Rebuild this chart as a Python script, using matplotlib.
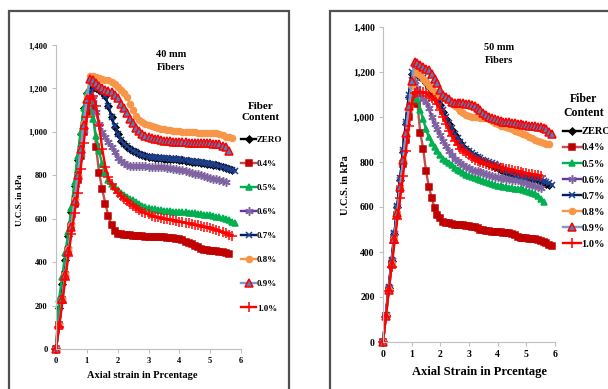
import matplotlib
matplotlib.use("Agg")
import matplotlib.pyplot as plt
from matplotlib.patches import Rectangle
from matplotlib.ticker import FuncFormatter

plt.rcParams['font.family'] = ['Liberation Serif', 'DejaVu Serif']
plt.rcParams['font.weight'] = 'bold'

# --- Data ---
STRAIN = [0.0, 0.1, 0.2, 0.3, 0.4, 0.5, 0.6, 0.7, 0.8, 0.9,
          1.0, 1.1, 1.2, 1.3, 1.4, 1.5, 1.6, 1.7, 1.8, 1.9,
          2.0, 2.1, 2.2, 2.3, 2.4, 2.5, 2.6, 2.7, 2.8, 2.9,
          3.0, 3.1, 3.2, 3.3, 3.4, 3.5, 3.6, 3.7, 3.8, 3.9,
          4.0, 4.1, 4.2, 4.3, 4.4, 4.5, 4.6, 4.7, 4.8, 4.9,
          5.0, 5.1, 5.2, 5.3, 5.4, 5.5, 5.6, 5.7, 5.8, 5.9]

LABELS = ["ZERO", "0.4%", "0.5%", "0.6%", "0.7%", "0.8%", "0.9%", "1.0%"]

# 40 mm fibers (U.C.S. in kPa)
ucs40_zero = [0, 190, 300, 410, 520, 630, 750, 870, 990, 1110,
              1180, 1195, 1200, 1200, 1195, 1183, 1163, 1118, 1068, 1023,
              988, 960, 944, 931, 920, 912, 905, 898, 893, 888,
              884, 882, 880, 879, 878, 877, 876, 875, 874, 873,
              871, 869, 867, 865, 863, 861, 859, 857, 855, 853,
              851, 849, 846, 843, 838, 833, 828, 823]
ucs40_04 = [0, 110, 225, 340, 450, 560, 670, 780, 890, 1000,
            1090, 1155, 1120, 930, 810, 735, 670, 612, 570, 545,
            530, 528, 527, 525, 524, 522, 521, 520, 519, 518,
            517, 516, 516, 515, 514, 514, 513, 512, 510, 508,
            505, 500, 495, 489, 482, 475, 468, 462, 458, 455,
            453, 452, 450, 448, 446, 441, 436]
ucs40_05 = [0, 230, 330, 440, 540, 650, 770, 890, 1000, 1110,
            1185, 1140, 1060, 980, 910, 850, 810, 780, 760, 745,
            730, 718, 708, 700, 692, 684, 675, 667, 660, 655,
            650, 646, 643, 640, 638, 636, 635, 634, 633, 632,
            631, 630, 629, 628, 627, 625, 623, 620, 618, 617,
            615, 612, 610, 606, 602, 598, 592, 586, 580]
ucs40_06 = [0, 110, 230, 345, 460, 570, 680, 790, 900, 1010,
            1120, 1180, 1150, 1090, 1035, 1000, 975, 955, 930, 905,
            880, 865, 855, 848, 845, 844, 843, 843, 842, 841,
            840, 840, 839, 838, 837, 836, 834, 832, 830, 828,
            826, 824, 820, 816, 812, 808, 804, 800, 796, 792,
            788, 785, 782, 778, 774, 770]
ucs40_07 = [0, 110, 230, 345, 460, 570, 690, 800, 920, 1030,
            1130, 1180, 1200, 1205, 1200, 1185, 1165, 1120, 1070, 1025,
            990, 962, 946, 933, 922, 914, 907, 900, 895, 890,
            886, 884, 882, 881, 880, 879, 878, 877, 876, 875,
            873, 871, 869, 867, 865, 863, 861, 859, 857, 855,
            853, 851, 848, 845, 840, 835, 830, 825, 820]
ucs40_08 = [0, 110, 230, 345, 460, 570, 690, 800, 920, 1040,
            1160, 1255, 1258, 1252, 1248, 1244, 1240, 1238, 1230, 1220,
            1208, 1195, 1178, 1160, 1130, 1100, 1075, 1055, 1045, 1038,
            1032, 1027, 1022, 1018, 1015, 1012, 1010, 1008, 1006, 1004,
            1002, 1001, 1000, 999, 998, 998, 997, 997, 996, 996,
            995, 994, 993, 990, 985, 978, 975, 972]
ucs40_09 = [0, 110, 230, 340, 450, 560, 680, 800, 920, 1030,
            1150, 1245, 1240, 1225, 1210, 1200, 1195, 1190, 1182, 1170,
            1155, 1130, 1110, 1085, 1060, 1040, 1020, 1005, 992, 982,
            976, 972, 968, 965, 962, 960, 958, 956, 955, 954,
            953, 952, 951, 950, 950, 949, 949, 948, 948, 947,
            947, 946, 945, 942, 936, 928, 912]
ucs40_10 = [0, 100, 210, 320, 430, 530, 625, 720, 830, 950,
            1070, 1150, 1165, 1120, 1030, 920, 840, 790, 760, 735,
            718, 705, 692, 680, 670, 660, 650, 640, 632, 626,
            620, 614, 610, 606, 603, 600, 598, 596, 593, 590,
            587, 584, 581, 578, 575, 572, 569, 566, 563, 560,
            557, 553, 548, 543, 538, 533, 527, 522]

# 50 mm fibers (U.C.S. in kPa)
ucs50_zero = [0, 120, 240, 360, 480, 600, 720, 845, 970, 1090,
              1190, 1200, 1192, 1180, 1168, 1152, 1132, 1112, 1092, 1077,
              1052, 1022, 993, 968, 943, 918, 898, 883, 868, 853,
              843, 833, 825, 817, 809, 803, 798, 793, 788, 780,
              773, 766, 760, 754, 750, 746, 743, 738, 735, 732,
              730, 728, 726, 723, 718, 713, 708, 703, 698]
ucs50_04 = [0, 115, 230, 345, 455, 565, 680, 790, 900, 1000,
            1070, 1100, 1060, 930, 860, 760, 690, 640, 595, 565,
            550, 535, 530, 527, 525, 522, 520, 519, 518, 517,
            515, 512, 510, 505, 500, 497, 494, 492, 490, 489,
            488, 487, 486, 485, 484, 482, 476, 468, 464, 462,
            461, 460, 459, 458, 455, 450, 446, 440, 432, 425]
ucs50_05 = [0, 120, 240, 355, 470, 585, 700, 820, 930, 1030,
            1080, 1095, 1080, 1030, 990, 945, 910, 885, 865, 850,
            830, 815, 805, 795, 785, 775, 765, 758, 750, 742,
            737, 732, 728, 725, 720, 715, 710, 706, 702, 698,
            695, 692, 690, 688, 686, 684, 682, 680, 678, 675,
            672, 668, 664, 660, 650, 635, 622]
ucs50_06 = [0, 125, 245, 365, 485, 605, 725, 850, 975, 1090,
            1170, 1160, 1130, 1100, 1080, 1068, 1040, 1000, 970, 945,
            920, 895, 870, 850, 830, 815, 805, 795, 785, 778,
            772, 766, 762, 758, 754, 750, 746, 742, 738, 735,
            732, 730, 728, 726, 724, 722, 720, 718, 714, 710,
            705, 700, 696, 692, 688, 685]
ucs50_07 = [0, 120, 245, 365, 485, 605, 730, 855, 980, 1100,
            1200, 1210, 1200, 1185, 1175, 1160, 1140, 1120, 1100, 1085,
            1060, 1030, 1000, 975, 950, 925, 905, 890, 875, 860,
            850, 840, 832, 824, 816, 810, 805, 800, 795, 790,
            782, 775, 768, 762, 756, 752, 748, 745, 740, 737,
            734, 732, 730, 728, 725, 720, 715, 710, 705, 700]
ucs50_08 = [0, 115, 230, 345, 460, 575, 690, 805, 920, 1035,
            1140, 1200, 1195, 1185, 1170, 1155, 1140, 1125, 1110, 1100,
            1095, 1090, 1085, 1075, 1062, 1050, 1040, 1028, 1018, 1010,
            1005, 1002, 1000, 998, 996, 996, 995, 990, 982, 975,
            968, 962, 960, 956, 950, 945, 940, 935, 930, 925,
            920, 912, 905, 898, 894, 890, 886, 882, 878]
ucs50_09 = [0, 115, 230, 345, 460, 575, 690, 810, 930, 1050,
            1160, 1245, 1240, 1230, 1222, 1215, 1210, 1190, 1170, 1150,
            1120, 1100, 1090, 1078, 1068, 1064, 1062, 1062, 1062, 1060,
            1060, 1055, 1048, 1040, 1030, 1020, 1010, 1000, 995, 990,
            985, 982, 980, 978, 976, 974, 972, 970, 968, 965,
            964, 962, 960, 958, 956, 955, 950, 945, 935, 925]
ucs50_10 = [0, 110, 225, 335, 440, 545, 640, 740, 850, 960,
            1060, 1105, 1110, 1112, 1110, 1105, 1095, 1085, 1075, 1060,
            1030, 1000, 970, 940, 915, 895, 875, 860, 850, 840,
            830, 820, 810, 805, 800, 795, 790, 786, 782, 779,
            777, 775, 772, 770, 768, 765, 762, 758, 755, 752,
            750, 748, 746, 744, 742, 740]

SERIES_40 = [ucs40_zero, ucs40_04, ucs40_05, ucs40_06, ucs40_07, ucs40_08, ucs40_09, ucs40_10]
SERIES_50 = [ucs50_zero, ucs50_04, ucs50_05, ucs50_06, ucs50_07, ucs50_08, ucs50_09, ucs50_10]

# --- Styles (line colour, marker, marker face, marker edge, marker size) ---
STYLES = [
    dict(color='black', marker='D', mfc='black', mec='black', ms=3.5),
    dict(color='#C0504D', marker='s', mfc='#C00000', mec='#C00000', ms=4.3),
    dict(color='#00B050', marker='^', mfc='#00B050', mec='#00B050', ms=5),
    dict(color='#7030A0', marker=(6, 2, 0), mfc='#8064A2', mec='#8064A2', ms=6),
    dict(color='#002060', marker='x', mfc='#002060', mec='#1F3F8F', ms=5),
    dict(color='#F79646', marker='o', mfc='#F79646', mec='#F79646', ms=4.3),
    dict(color='#7A9CCF', marker='^', mfc='#4F81BD', mec='#FF0000', ms=5.5),
    dict(color='#FF0000', marker='+', mfc='#FF0000', mec='#FF0000', ms=7),
]

W, H = 608, 389


def fx(px):
    return px / W


def fy(py):
    return 1 - py / H


fig = plt.figure(figsize=(W / 100, H / 100), dpi=100)
fig.set_facecolor('white')

# panel frames
for x0, x1 in [(9, 289), (330, 640)]:
    fig.patches.append(Rectangle((fx(x0), fy(420)), fx(x1) - fx(x0), fy(11) - fy(420),
                                 transform=fig.transFigure, fill=False,
                                 edgecolor='#505050', linewidth=1.6))

panels = [
    dict(ax_px=(56, 241, 45, 349), series=SERIES_40, tick=6, lab=7, title="40 mm\nFibers",
         title_xy=(171, 61), xlabel="Axial strain in Prcentage", xlabel_xy=(142, 376),
         ylabel_xy=(20, 200), leg_title_xy=(261, 112), leg_xy=(241, 224), leg_fs=6.5,
         leg_space=1.75, title_fs=7.5, ttl_fs=8, xl_fs=7.5),
    dict(ax_px=(383, 555, 27, 342), series=SERIES_50, tick=7, lab=8, title="50 mm\nFibers",
         title_xy=(499, 54), xlabel="Axial Strain in Prcentage", xlabel_xy=(480, 372),
         ylabel_xy=(345, 185), leg_title_xy=(584, 106), leg_xy=(563, 188), leg_fs=7.5,
         leg_space=0.65, title_fs=7.5, ttl_fs=8.5, xl_fs=9),
]

for p in panels:
    x0, x1, y0, y1 = p['ax_px']
    ax = fig.add_axes([fx(x0), fy(y1), fx(x1) - fx(x0), fy(y0) - fy(y1)])
    handles = []
    for vals, st in zip(p['series'], STYLES):
        ln, = ax.plot(STRAIN[:len(vals)], vals, color=st['color'], lw=1.7,
                      marker=st['marker'], markerfacecolor=st['mfc'],
                      markeredgecolor=st['mec'], markersize=st['ms'],
                      markeredgewidth=1.1, clip_on=False)
        handles.append(ln)
    ax.set_xlim(0, 6)
    ax.set_ylim(0, 1400)
    ax.set_xticks(range(0, 7))
    ax.set_yticks(range(0, 1401, 200))
    ax.yaxis.set_major_formatter(FuncFormatter(lambda v, pos: f"{int(v):,}"))
    for s in ['top', 'right']:
        ax.spines[s].set_visible(False)
    for s in ['left', 'bottom']:
        ax.spines[s].set_color('#BFBFBF')
        ax.spines[s].set_linewidth(0.8)
    ax.tick_params(direction='out', length=3, width=0.8, color='#BFBFBF',
                   labelsize=p['tick'], pad=3)
    for t in ax.get_xticklabels() + ax.get_yticklabels():
        t.set_fontweight('bold')
    ax.set_facecolor('none')

    fig.text(fx(p['title_xy'][0]), fy(p['title_xy'][1]), p['title'], ha='center', va='center',
             fontsize=p['title_fs'], fontweight='bold', linespacing=1.5)
    fig.text(fx(p['xlabel_xy'][0]), fy(p['xlabel_xy'][1]), p['xlabel'], ha='center', va='center',
             fontsize=p['xl_fs'], fontweight='bold')
    fig.text(fx(p['ylabel_xy'][0]), fy(p['ylabel_xy'][1]), "U.C.S. in kPa", ha='center',
             va='center', rotation=90, fontsize=p['lab'] - 0.5, fontweight='bold')
    fig.text(fx(p['leg_title_xy'][0]), fy(p['leg_title_xy'][1]), "Fiber\nContent",
             ha='center', va='center', fontsize=p['ttl_fs'], fontweight='bold', linespacing=1.2)
    fig.legend(handles, LABELS, loc='center left',
               bbox_to_anchor=(fx(p['leg_xy'][0]), fy(p['leg_xy'][1])),
               frameon=False, numpoints=1, handlelength=1.7,
               handletextpad=0.05, borderpad=0, borderaxespad=0,
               labelspacing=p['leg_space'], prop={'weight': 'bold', 'size': p['leg_fs']})

fig.savefig("out.png", dpi=100, facecolor='white')
